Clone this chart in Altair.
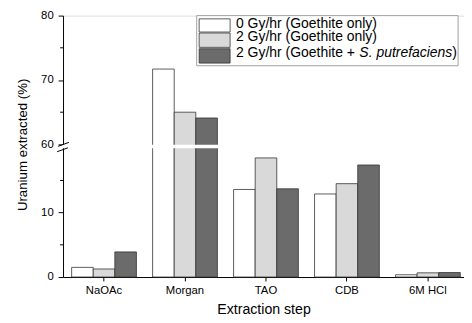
import altair as alt
import pandas as pd

# ---- data ----
categories = ["NaOAc", "Morgan", "TAO", "CDB", "6M HCl"]
series = [
    "0 Gy/hr (Goethite only)",
    "2 Gy/hr (Goethite only)",
    "2 Gy/hr (Goethite + S. putrefaciens)",
]
vals_0gy = [1.5, 71.7, 13.6, 12.9, 0.35]
vals_2gy = [1.25, 65.0, 18.5, 14.5, 0.65]
vals_2gy_sp = [3.9, 64.1, 13.7, 17.4, 0.7]
fills = ["#ffffff", "#d9d9d9", "#6b6b6b"]

major_ticks = [0, 10, 60, 70, 80]
minor_ticks = [5, 15, 65, 75]

# broken axis: 0-20 below, 60-80 above
LOW_MAX = 20
HIGH_MIN = 60
HIGH_MAX = 80
GAP = 0.6  # axis units used by the break


def broken(v):
    return v if v <= LOW_MAX else v - HIGH_MIN + LOW_MAX + GAP


rows = []
for s, vals in zip(series, [vals_0gy, vals_2gy, vals_2gy_sp]):
    for c, v in zip(categories, vals):
        rows.append({"step": c, "series": s, "value": v, "ypos": broken(v)})
df = pd.DataFrame(rows)

ydom = [0, broken(HIGH_MAX)]
yscale = alt.Scale(domain=ydom, nice=False, zero=True)
FONT = "Liberation Sans"
W, H = 408, 266

bars = alt.Chart(df).mark_bar(stroke="#333333", strokeWidth=0.8).encode(
    x=alt.X(
        "step:N",
        sort=categories,
        scale=alt.Scale(paddingInner=0.2, paddingOuter=0.076, align=0.7),
        axis=alt.Axis(
            title="Extraction step",
            labelAngle=0,
            labelFont=FONT,
            labelFontSize=11.5,
            labelColor="#000000",
            labelPadding=3.5,
            tickSize=4,
            tickColor="#000000",
            domainColor="#000000",
            titleFont=FONT,
            titleFontSize=14.4,
            titleFontWeight="normal",
            titleColor="#000000",
            titleY=37,
            titleBaseline="alphabetic",
            zindex=0,
        ),
    ),
    xOffset=alt.XOffset("series:N", sort=series, scale=alt.Scale(paddingInner=0, paddingOuter=0)),
    y=alt.Y(
        "ypos:Q",
        scale=yscale,
        axis=alt.Axis(
            title="Uranium extracted (%)",
            values=[broken(v) for v in major_ticks],
            labelExpr="datum.value > 20 ? format(datum.value + 39.4, '.0f') : format(datum.value, '.0f')",
            labelFont=FONT,
            labelFontSize=11.5,
            labelColor="#000000",
            labelPadding=5,
            tickSize=5,
            tickColor="#000000",
            domainColor="#000000",
            grid=False,
            titleFont=FONT,
            titleFontSize=13.5,
            titleFontWeight="normal",
            titleColor="#000000",
            titleAngle=-90,
            titleX=-37,
            titleY=H / 2 - 2,
            titleAlign="center",
            titleBaseline="alphabetic",
            zindex=0,
        ),
    ),
    fill=alt.Fill("series:N", sort=series, scale=alt.Scale(domain=series, range=fills), legend=None),
)

minor = alt.Chart(pd.DataFrame({"t": [broken(v) for v in minor_ticks]})).mark_rule(
    color="#000000", strokeWidth=1
).encode(y=alt.Y("t:Q", scale=yscale), x=alt.value(-3), x2=alt.value(0))

one = pd.DataFrame({"k": [0]})
gap = alt.Chart(one).mark_rect(fill="#ffffff", stroke=None).encode(
    y=alt.datum(LOW_MAX), y2=alt.datum(LOW_MAX + GAP - 0.05),
    x=alt.value(-1), x2=alt.value(W),
)
slash1 = alt.Chart(one).mark_rule(color="#000000", strokeWidth=1).encode(
    x=alt.value(-5), x2=alt.value(6), y=alt.value(133), y2=alt.value(129)
)
slash2 = alt.Chart(one).mark_rule(color="#000000", strokeWidth=1).encode(
    x=alt.value(-6), x2=alt.value(5), y=alt.value(138.5), y2=alt.value(134.5)
)

# ---- legend drawn by hand (for the italic species name) ----
legend_layers = [
    alt.Chart(one).mark_rect(fill="#ffffff", stroke="#a0a0a0", strokeWidth=1).encode(
        x=alt.value(136), x2=alt.value(402), y=alt.value(0), y2=alt.value(51)
    )
]
row_tops = [3.3, 17.7, 33.7]
row_bottoms = [16.7, 32.3, 48.3]
text_base = [12.8, 26.3, 41.8]
TX = 176
for i, s in enumerate(series):
    legend_layers.append(
        alt.Chart(one).mark_rect(fill=fills[i], stroke="#333333", strokeWidth=0.8).encode(
            x=alt.value(138.5), x2=alt.value(170),
            y=alt.value(row_tops[i]), y2=alt.value(row_bottoms[i]),
        )
    )
    yb = text_base[i]
    if i < 2:
        legend_layers.append(
            alt.Chart(one).mark_text(align="left", baseline="alphabetic", font=FONT, fontSize=14.2,
                                     color="#000000", text=s).encode(x=alt.value(TX), y=alt.value(yb))
        )
    else:
        legend_layers.append(
            alt.Chart(one).mark_text(align="left", baseline="alphabetic", font=FONT, fontSize=14.2,
                                     color="#000000", text="2 Gy/hr (Goethite +").encode(x=alt.value(TX), y=alt.value(yb))
        )
        legend_layers.append(
            alt.Chart(one).mark_text(align="left", baseline="alphabetic", font=FONT, fontSize=14.2,
                                     fontStyle="italic", color="#000000",
                                     text="S. putrefaciens").encode(x=alt.value(301.5), y=alt.value(yb))
        )
        legend_layers.append(
            alt.Chart(one).mark_text(align="left", baseline="alphabetic", font=FONT, fontSize=14.2,
                                     color="#000000", text=")").encode(x=alt.value(396), y=alt.value(yb))
        )

chart = alt.layer(bars, minor, gap, slash1, slash2, *legend_layers).properties(
    width=W,
    height=H,
    autosize=alt.AutoSizeParams(type="none"),
    padding={"left": 56, "top": 5, "right": 0, "bottom": 42},
).configure_view(stroke=None).configure(background="#ffffff")

chart.save("out.html", embed_options={"renderer": "svg", "actions": False})
